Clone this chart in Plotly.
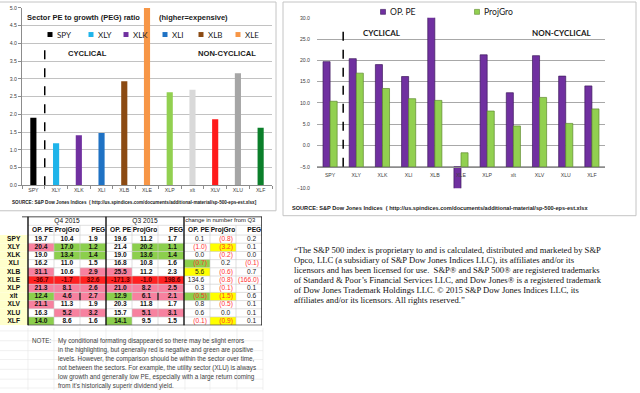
import plotly.graph_objects as go

W, H = 640, 393


def PX(x):
    return x / W


def PY(y):
    return 1 - y / H


# ---------------- data ----------------
tickers = ["SPY", "XLY", "XLK", "XLI", "XLB", "XLE", "XLP", "xlt", "XLV", "XLU", "XLF"]
legend_tickers = ["SPY", "XLY", "XLK", "XLI", "XLB", "XLE"]
peg_colors = ["#000000", "#1fb4ea", "#7030a0", "#1f72c4", "#8b4a12", "#f79646",
              "#92d050", "#d9d9d9", "#ff1a1a", "#a6a6a6", "#0b7f2a"]

# Q4 2015
q4_pe = [19.7, 20.4, 19.0, 16.2, 31.1, -36.7, 21.3, 12.4, 21.1, 16.3, 14.0]
q4_gro = [10.4, 17.0, 13.4, 11.0, 10.6, -1.7, 8.1, 4.6, 11.3, 5.2, 8.6]
q4_peg = [1.90, 1.18, 1.41, 1.47, 2.93, 32.6, 2.62, 2.69, 1.86, 3.16, 1.62]
# Q3 2015
q3_pe = [19.6, 21.4, 19.0, 16.8, 25.5, -171.3, 21.0, 12.9, 20.3, 15.7, 14.1]
q3_gro = [11.2, 20.2, 13.6, 10.8, 11.2, -1.0, 8.2, 6.1, 11.8, 5.1, 9.5]
q3_peg = [1.7, 1.1, 1.4, 1.6, 2.3, 198.6, 2.5, 2.1, 1.7, 3.1, 1.5]
# change in number from Q3
chg_pe = [0.1, -1.0, 0.0, -0.7, 5.6, 134.6, 0.3, -0.5, 0.8, 0.6, -0.1]
chg_gro = [-0.8, -3.2, -0.2, 0.2, -0.6, -0.8, -0.1, -1.5, -0.5, 0.0, -0.9]
chg_peg = [0.2, 0.1, 0.0, -0.1, 0.7, -166.0, 0.1, 0.6, 0.1, 0.1, 0.1]

# highlight codes: w white, p pink, r red, g green, y yellow
q4_pe_fill = "wpwwprpgpwg"
q4_gro_fill = "wggwwrppwpw"
q4_peg_fill = "wggwprppwpw"
q3_pe_fill = "wwwwprpgwwg"
q3_gro_fill = "wggwwrppwpw"
q3_peg_fill = "wggwwrppwpw"
chg_pe_fill = "wwwgywwgwww"
chg_gro_fill = "wywwwwwywwy"
chg_peg_fill = "wwwwwwwwwww"

sub_headers = ["OP. PE", "ProjGro", "PEG"]
block_headers = ["Q4 2015", "Q3 2015", "change in number from Q3"]

note_lines = [
    "My conditional formating disappeared so there may be slight errors",
    "in the highlighting, but generally red is negative and green are positive",
    "levels. However, the comparison should be within the sector over time,",
    "not between the sectors. For example, the utility sector (XLU) is always",
    "low growth and generally low PE, especially with a large return coming",
    "from it's historically superir dividend yield.",
]
legal_lines = [
    "\u201cThe S&P 500 index is proprietary to and is calculated, distributed and marketed by S&P",
    "Opco, LLC (a subsidiary of S&P Dow Jones Indices LLC), its affiliates and/or its",
    "licensors and has been licensed for use.  S&P\u00ae and S&P 500\u00ae are registered trademarks",
    "of Standard & Poor\u2019s Financial Services LLC, and Dow Jones\u00ae is a registered trademark",
    "of Dow Jones Trademark Holdings LLC. \u00a9 2015 S&P Dow Jones Indices LLC, its",
    "affiliates and/or its licensors. All rights reserved.\u201d",
]
source_text = "SOURCE: S&P Dow Jones Indices  ( http://us.spindices.com/documents/additional-material/sp-500-eps-est.xlsx"

SANS = "Liberation Sans, Arial, sans-serif"
NARROW = "Liberation Sans Narrow, Arial Narrow, Liberation Sans, sans-serif"
CAL = "Lato, Liberation Sans, sans-serif"
SERIF = "Liberation Serif, Times New Roman, serif"

fig = go.Figure()

# ---------------- left chart: PEG ----------------
fig.add_trace(go.Bar(
    x=tickers, y=q4_peg, width=0.27,
    marker=dict(color=peg_colors, line=dict(width=0)),
    xaxis="x", yaxis="y", showlegend=False, hoverinfo="skip"))

# ---------------- right chart: OP. PE and ProjGro ----------------
axis_cross = -5
fig.add_trace(go.Bar(
    x=tickers, y=[v - axis_cross for v in q4_pe], base=axis_cross, name="OP. PE",
    marker=dict(color="#7030a0", line=dict(color="#3d1a5c", width=0.7)),
    xaxis="x2", yaxis="y2", showlegend=False, hoverinfo="skip"))
fig.add_trace(go.Bar(
    x=tickers, y=[v - axis_cross for v in q4_gro], base=axis_cross, name="ProjGro",
    marker=dict(color="#92d050", line=dict(color="#5e8a2e", width=0.7)),
    xaxis="x2", yaxis="y2", showlegend=False, hoverinfo="skip"))

y2_dom = [PY(188), PY(15)]
y2_rng = [-10, 30]
x2_pos = y2_dom[0] + (axis_cross - y2_rng[0]) / (y2_rng[1] - y2_rng[0]) * (y2_dom[1] - y2_dom[0])

# ---------------- table (own hidden axes: columns / rows) ----------------
ROW_TOP, ROW_BOT = -2.77, 10.5
COL_L, COL_R = -1.577, 8.5
R_HEAD, R_SUB, R_B1 = -2.23, -1.08, -1.69

fill_map = {"p": "#f7819f", "r": "#ff2020", "g": "#8ccf4d", "y": "#ffff00"}
columns = [
    (q4_pe, q4_pe_fill, "num"), (q4_gro, q4_gro_fill, "num"), (q4_peg, q4_peg_fill, "num"),
    (q3_pe, q3_pe_fill, "num"), (q3_gro, q3_gro_fill, "num"), (q3_peg, q3_peg_fill, "num"),
    (chg_pe, chg_pe_fill, "acc"), (chg_gro, chg_gro_fill, "acc"), (chg_peg, chg_peg_fill, "acc"),
]

shapes = []
T = dict(xref="x3", yref="y3")

# label column background
for r in range(len(tickers)):
    shapes.append(dict(type="rect", x0=COL_L, x1=-0.5, y0=r - 0.5, y1=r + 0.5,
                       fillcolor="#ffffcc", line=dict(width=0), layer="below", **T))
# cell fills
for c, (vals, fills, kind) in enumerate(columns):
    for r, f in enumerate(fills):
        if f in fill_map:
            shapes.append(dict(type="rect", x0=c - 0.5, x1=c + 0.5, y0=r - 0.5, y1=r + 0.5,
                               fillcolor=fill_map[f], line=dict(width=0), layer="below", **T))
# thin grid lines
thin = dict(color="#c9c9c9", width=0.6)
for k in range(len(tickers) + 1):
    shapes.append(dict(type="line", x0=-0.5, x1=8.5, y0=k - 0.5, y1=k - 0.5, line=thin, **T))
shapes.append(dict(type="line", x0=-0.5, x1=8.5, y0=R_B1, y1=R_B1, line=thin, **T))
for cx in [0.5, 1.5, 3.5, 4.5, 6.5, 7.5]:
    shapes.append(dict(type="line", x0=cx, x1=cx, y0=R_B1, y1=ROW_BOT, line=thin, **T))
# thick borders
thick = dict(color="#111111", width=1.4)
for cx in [-0.5, 2.5, 5.5, 8.5]:
    shapes.append(dict(type="line", x0=cx, x1=cx, y0=ROW_TOP, y1=ROW_BOT + 0.1, line=thick, **T))
shapes.append(dict(type="line", x0=-0.73, x1=8.5, y0=ROW_TOP, y1=ROW_TOP, line=thick, **T))
shapes.append(dict(type="line", x0=-0.5, x1=8.5, y0=ROW_BOT + 0.05, y1=ROW_BOT + 0.05, line=thick, **T))
# small border marks in the xlt row
xlt_r = tickers.index("xlt")
for cx in [1.5, 4.5]:
    shapes.append(dict(type="line", x0=cx, x1=cx, y0=xlt_r - 0.45, y1=xlt_r + 0.45,
                       line=dict(color="#111111", width=1.2), **T))

# table text: values
for c, (vals, fills, kind) in enumerate(columns):
    texts, colors, xs = [], [], []
    for r, v in enumerate(vals):
        neg = v < 0
        if kind == "num":
            texts.append(f"{v:.1f}")
            xs.append(c + (0.05 if c >= 3 else 0.0))
            colors.append("#5a0000" if fills[r] == "r" else "#111111")
        else:
            texts.append(f"({abs(v):.1f})" if neg else f"{v:.1f}")
            xs.append(c + 0.5 - (0.12 if neg else 0.22))
            colors.append("#ff3030" if neg else "#222222")
    fig.add_trace(go.Scatter(
        x=xs, y=list(range(len(vals))), mode="text", text=texts,
        textposition="middle center" if kind == "num" else "middle left",
        textfont=dict(family=NARROW, size=6.6, color=colors,
                      weight="bold" if kind == "num" else "normal"),
        xaxis="x3", yaxis="y3", showlegend=False, hoverinfo="skip", cliponaxis=False))

# row labels
fig.add_trace(go.Scatter(
    x=[-1.05] * len(tickers), y=list(range(len(tickers))), mode="text", text=tickers,
    textposition="middle center",
    textfont=dict(family=NARROW, size=6.6, color="#111111", weight="bold"),
    xaxis="x3", yaxis="y3", showlegend=False, hoverinfo="skip", cliponaxis=False))

# sub headers
sub_x, sub_t = [], []
for b in range(3):
    for i, s in enumerate(sub_headers):
        sub_x.append(3 * b + i + 0.47)
        sub_t.append(s)
fig.add_trace(go.Scatter(
    x=sub_x, y=[R_SUB] * len(sub_x), mode="text", text=sub_t, textposition="middle left",
    textfont=dict(family=NARROW, size=6.6, color="#111111", weight="bold"),
    xaxis="x3", yaxis="y3", showlegend=False, hoverinfo="skip", cliponaxis=False))

# block headers
fig.add_trace(go.Scatter(
    x=[1, 4], y=[R_HEAD, R_HEAD], mode="text", text=block_headers[:2],
    textposition="middle center",
    textfont=dict(family=NARROW, size=6.6, color="#111111"),
    xaxis="x3", yaxis="y3", showlegend=False, hoverinfo="skip", cliponaxis=False))
fig.add_trace(go.Scatter(
    x=[5.55], y=[R_HEAD], mode="text", text=[block_headers[2]],
    textposition="middle right",
    textfont=dict(family=SANS, size=5.9, color="#222222"),
    xaxis="x3", yaxis="y3", showlegend=False, hoverinfo="skip", cliponaxis=False))

# ---------------- decorations in chart coordinates ----------------
# dashed separators
shapes.append(dict(type="line", xref="x", yref="y", x0=0.5, x1=0.5, y0=0, y1=3.93,
                   line=dict(color="#000000", width=1.5, dash="dash")))
shapes.append(dict(type="line", xref="x2", yref="y2", x0=0.5, x1=0.5, y0=axis_cross, y1=27.6,
                   line=dict(color="#000000", width=1.5, dash="dash")))

# panel borders
shapes.append(dict(type="rect", xref="paper", yref="paper", x0=PX(-1), x1=PX(276), y0=PY(211), y1=PY(-1),
                   line=dict(color="#c4c4c4", width=1), fillcolor="rgba(0,0,0,0)"))
shapes.append(dict(type="rect", xref="paper", yref="paper", x0=PX(283), x1=PX(636), y0=PY(216), y1=PY(-1),
                   line=dict(color="#c4c4c4", width=1), fillcolor="rgba(0,0,0,0)"))

# faint spreadsheet grid below table
faint = dict(color="#e6e6e6", width=0.6)
for yy in [333, 343, 353, 362, 372, 382, 391]:
    shapes.append(dict(type="line", xref="paper", yref="paper", x0=PX(0), x1=PX(263), y0=PY(yy), y1=PY(yy), line=faint, layer="below"))
for xx in [28, 54, 80, 106, 132, 158, 185, 210, 237, 263]:
    shapes.append(dict(type="line", xref="paper", yref="paper", x0=PX(xx), x1=PX(xx), y0=PY(330), y1=PY(393), line=faint, layer="below"))

annotations = []


def ann(x, y, text, size, family=SANS, color="#1a1a1a", xanchor="left", bold=False):
    annotations.append(dict(
        x=PX(x), y=PY(y), xref="paper", yref="paper", text=f"<b>{text}</b>" if bold else text,
        showarrow=False, xanchor=xanchor, yanchor="middle",
        font=dict(family=family, size=size, color=color)))


# left chart texts
ann(25, 15, "Sector PE to growth (PEG) ratio", 7.5, bold=True)
ann(157, 15, "(higher=expensive)", 7.5, bold=True)
ann(87, 51, "CYCLICAL", 7.6, xanchor="center", bold=True)
ann(227, 51, "NON-CYCLICAL", 7.6, xanchor="center", bold=True)
leg_x = [50, 91, 126, 165, 201, 238]
for lx, t in zip(leg_x, legend_tickers):
    col = peg_colors[tickers.index(t)]
    shapes.append(dict(type="rect", xref="paper", yref="paper", x0=PX(lx - 2.5), x1=PX(lx + 2.5),
                       y0=PY(34.5), y1=PY(29.5), fillcolor=col, line=dict(width=0)))
    ann(lx + 5, 32, t, 8, family=CAL)
ann(10, 203, source_text + "]", 4.6, bold=True)

# right chart texts
ann(382, 30, "CYCLICAL", 8, family=CAL, xanchor="center", bold=True)
ann(562, 30, "NON-CYCLICAL", 8, family=CAL, xanchor="center", bold=True)
for lx, t, col, lc in [(383, "OP. PE", "#7030a0", "#3d1a5c"), (477, "ProjGro", "#92d050", "#5e8a2e")]:
    shapes.append(dict(type="rect", xref="paper", yref="paper", x0=PX(lx - 2.5), x1=PX(lx + 2.5),
                       y0=PY(11.5), y1=PY(6.5), fillcolor=col, line=dict(color=lc, width=0.6)))
    ann(lx + 4.5, 9, t, 8.6, family=CAL)
ann(290, 208, source_text, 5.6, bold=True)

# note
ann(30, 343, "NOTE:", 6.3, color="#404040")
for i, line in enumerate(note_lines):
    ann(56, 343 + 9.2 * i, line, 6.3, color="#404040")

# legal text
for i, line in enumerate(legal_lines):
    ann(292, 251 + 10.2 * i, line, 8.6, family=SERIF, color="#111111")

tick_font = dict(family=SANS, size=5.2, color="#404040")

fig.update_layout(
    width=W, height=H, margin=dict(l=0, r=0, t=0, b=0),
    paper_bgcolor="white", plot_bgcolor="white",
    barmode="group", bargap=0.46, bargroupgap=0,
    showlegend=False,
    xaxis=dict(domain=[PX(22), PX(272)], anchor="y", type="category", range=[-0.5, 10.5],
               showline=True, linecolor="#8c8c8c", linewidth=1, ticks="outside", tickson="boundaries",
               ticklen=3, tickcolor="#8c8c8c", tickfont=tick_font, showgrid=False, fixedrange=True),
    yaxis=dict(domain=[PY(185), PY(5)], anchor="x", range=[0, 5], dtick=0.5, tickformat=".1f",
               showgrid=True, gridcolor="#c2c2c2", gridwidth=0.8, zeroline=False,
               showline=True, linecolor="#8c8c8c", ticks="outside", ticklen=3, tickcolor="#8c8c8c",
               tickfont=tick_font, fixedrange=True),
    xaxis2=dict(domain=[PX(317), PX(605)], anchor="free", position=x2_pos, type="category",
                range=[-0.5, 10.5], showline=True, linecolor="#8c8c8c", ticks="",
                tickfont=tick_font, showgrid=False, ticklabelstandoff=3, fixedrange=True),
    yaxis2=dict(domain=y2_dom, anchor="x2", range=y2_rng, dtick=5, tickformat=".1f",
                showgrid=True, gridcolor="#a8a8a8", gridwidth=0.8, zeroline=False, showline=False,
                tickfont=tick_font, ticklabelstandoff=6, fixedrange=True),
    xaxis3=dict(domain=[0, PX(262)], anchor="y3", range=[COL_L, COL_R], visible=False, fixedrange=True),
    yaxis3=dict(domain=[PY(327.15), PY(216.76)], anchor="x3", range=[ROW_BOT, ROW_TOP],
                visible=False, fixedrange=True),
    shapes=shapes, annotations=annotations,
)

fig.write_html("out.html", config={"displayModeBar": False},
               post_script="document.body.style.margin='0';document.body.style.overflow='hidden';")
